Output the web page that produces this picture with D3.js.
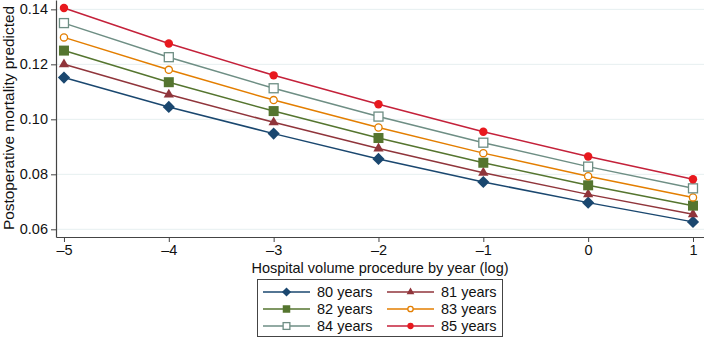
<!DOCTYPE html>
<html>
<head>
<meta charset="utf-8">
<script src="https://cdn.jsdelivr.net/npm/d3@7"></script>
<style>
  body { margin: 0; background: #fff; }
  text { font-family: "Liberation Sans", Arial, sans-serif; fill: #111; }
</style>
</head>
<body>
<div class="graph"></div>
<script>
// valeurs
const volumes = [-5, -4, -3, -2, -1, 0, 1];
const yTicks = [0.06, 0.08, 0.10, 0.12, 0.14];
const ages = ["80 years", "81 years", "82 years", "83 years", "84 years", "85 years"];
const age80 = [0.1152, 0.1045, 0.0948, 0.0856, 0.0772, 0.0697, 0.0627];
const age81 = [0.1200, 0.1090, 0.0989, 0.0894, 0.0806, 0.0727, 0.0655];
const age82 = [0.1250, 0.1135, 0.1030, 0.0932, 0.0842, 0.0760, 0.0686];
const age83 = [0.1298, 0.1180, 0.1070, 0.0970, 0.0877, 0.0793, 0.0716];
const age84 = [0.1350, 0.1226, 0.1113, 0.1010, 0.0915, 0.0828, 0.0749];
const age85 = [0.1405, 0.1276, 0.1160, 0.1055, 0.0955, 0.0865, 0.0782];

const series = [age80, age81, age82, age83, age84, age85];
const lineColors = ["#1a476f", "#90353b", "#55752f", "#e37e00", "#6e8e84", "#c4213a"];
const markColors = ["#1a476f", "#90353b", "#55752f", "#e37e00", "#6e8e84", "#e8191e"];
const shapes = ["diamond", "triangle", "square", "ocircle", "osquare", "circle"];

const width = 704, height = 340;
const margin = { top: 0, right: 704, bottom: 237, left: 56 };

const svg = d3.select(".graph").append("svg")
    .attr("width", width)
    .attr("height", height);

const x = d3.scaleLinear().domain([-5.076, 1.105]).range([margin.left, margin.right]);
const y = d3.scaleLinear().domain([0.0572, 0.1434]).range([margin.bottom, margin.top]);

// grille
svg.append("g")
    .selectAll("line")
    .data(yTicks)
    .join("line")
    .attr("x1", margin.left).attr("x2", margin.right)
    .attr("y1", d => y(d)).attr("y2", d => y(d))
    .attr("stroke", "#e6eff0")
    .attr("stroke-width", 1);

// axes
const yAxis = svg.append("g")
    .attr("transform", `translate(${margin.left},0)`)
    .call(d3.axisLeft(y).tickValues(yTicks).tickFormat(d3.format(".2f")).tickSize(5).tickSizeOuter(0).tickPadding(3));

const xAxis = svg.append("g")
    .attr("transform", `translate(0,${margin.bottom})`)
    .call(d3.axisBottom(x).tickValues(volumes).tickFormat(d => d < 0 ? "\u2013" + Math.abs(d) : d).tickSize(5).tickSizeOuter(0).tickPadding(3));

[yAxis, xAxis].forEach(a => {
    a.select(".domain").attr("stroke", "#444").attr("stroke-width", 1.2);
    a.selectAll(".tick line").attr("stroke", "#444");
    a.selectAll(".tick text")
        .style("font-size", "14.5px")
        .style("font-family", "Liberation Sans, Arial, sans-serif")
        .attr("fill", "#111");
});

// titres des axes
svg.append("text")
    .attr("transform", "translate(14,118) rotate(-90)")
    .attr("text-anchor", "middle")
    .style("font-size", "15.4px")
    .text("Postoperative mortality predicted");

svg.append("text")
    .attr("x", 380)
    .attr("y", 273)
    .attr("text-anchor", "middle")
    .style("font-size", "14.5px")
    .text("Hospital volume procedure by year (log)");

// symboles
function drawMarker(g, shape, color, cx, cy, s) {
    if (shape == "diamond") {
        g.append("path")
            .attr("d", d3.symbol(d3.symbolDiamond2, 95 * s * s)())
            .attr("transform", `translate(${cx},${cy})`)
            .attr("fill", color);
    } else if (shape == "triangle") {
        g.append("path")
            .attr("d", d3.symbol(d3.symbolTriangle, 46 * s * s)())
            .attr("transform", `translate(${cx},${cy})`)
            .attr("fill", color);
    } else if (shape == "square") {
        g.append("rect")
            .attr("x", cx - 5 * s).attr("y", cy - 5 * s)
            .attr("width", 10 * s).attr("height", 10 * s)
            .attr("fill", color);
    } else if (shape == "osquare") {
        g.append("rect")
            .attr("x", cx - 4.5 * s).attr("y", cy - 4.5 * s)
            .attr("width", 9 * s).attr("height", 9 * s)
            .attr("fill", "#fff")
            .attr("stroke", color).attr("stroke-width", 1.3);
    } else if (shape == "ocircle") {
        g.append("circle")
            .attr("cx", cx).attr("cy", cy).attr("r", 3.6 * s)
            .attr("fill", "#fff")
            .attr("stroke", color).attr("stroke-width", 1.3);
    } else {
        g.append("circle")
            .attr("cx", cx).attr("cy", cy).attr("r", 4.2 * s)
            .attr("fill", color);
    }
}

const line = d3.line()
    .x((d, i) => x(volumes[i]))
    .y(d => y(d));

const plot = svg.append("g");

series.forEach((vals, k) => {
    plot.append("path")
        .datum(vals)
        .attr("d", line)
        .attr("fill", "none")
        .attr("stroke", lineColors[k])
        .attr("stroke-width", 1.5);
});

series.forEach((vals, k) => {
    const g = plot.append("g");
    vals.forEach((v, i) => drawMarker(g, shapes[k], markColors[k], x(volumes[i]), y(v), 1));
});

// légende
const legend = svg.append("g");
legend.append("rect")
    .attr("x", 257.5).attr("y", 279.5)
    .attr("width", 245).attr("height", 57)
    .attr("fill", "#fff")
    .attr("stroke", "#444")
    .attr("stroke-width", 1);

ages.forEach((a, k) => {
    const col = k % 2, row = Math.floor(k / 2);
    const x0 = col == 0 ? 263 : 387;
    const cy = 292 + row * 17;
    legend.append("line")
        .attr("x1", x0).attr("x2", x0 + 47)
        .attr("y1", cy).attr("y2", cy)
        .attr("stroke", lineColors[k])
        .attr("stroke-width", 1.3);
    drawMarker(legend, shapes[k], markColors[k], x0 + 23.5, cy, 0.75);
    legend.append("text")
        .attr("x", x0 + 54)
        .attr("y", cy + 5)
        .style("font-size", "14.5px")
        .text(a);
});
</script>
</body>
</html>
